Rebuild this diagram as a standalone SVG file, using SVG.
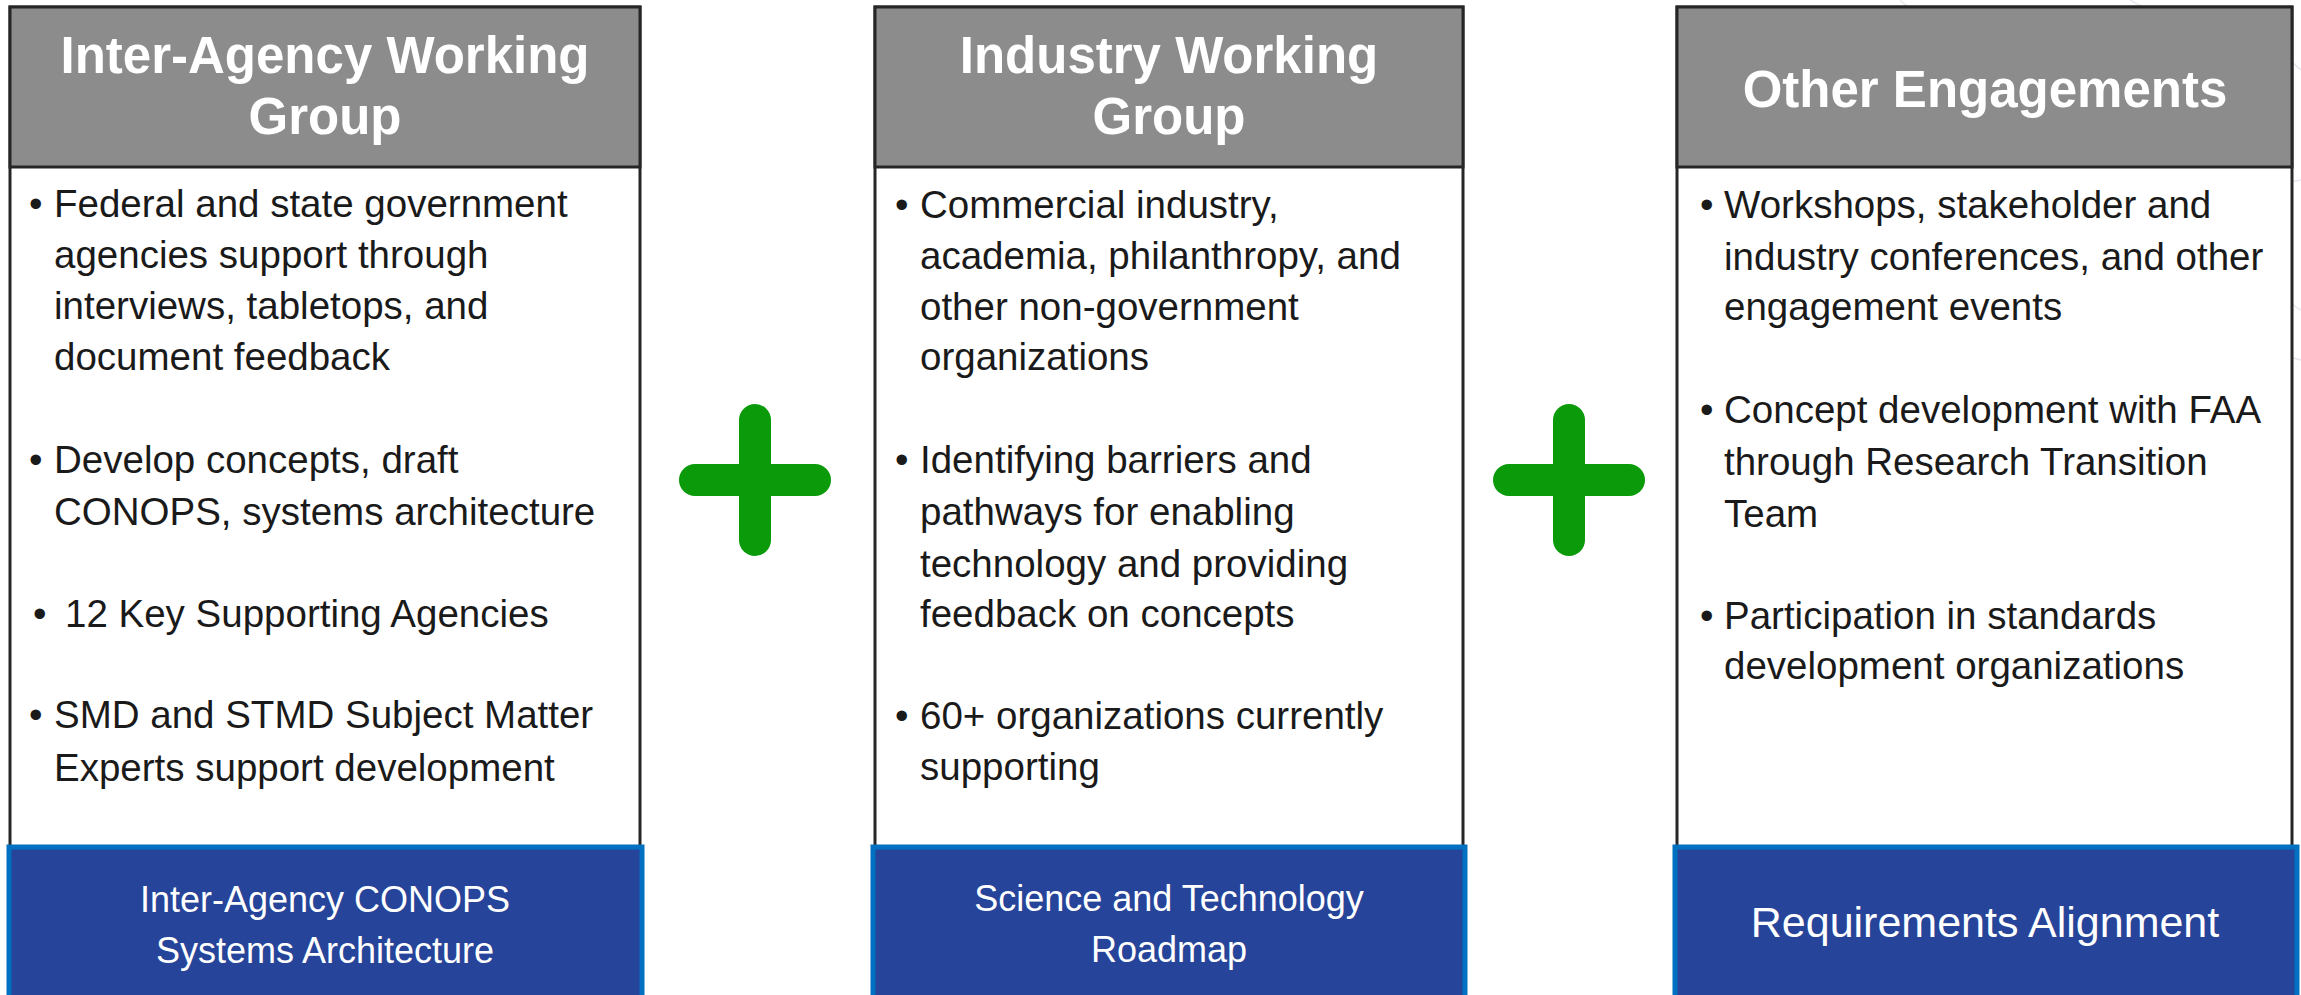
<svg xmlns="http://www.w3.org/2000/svg" width="2301" height="995" viewBox="0 0 2301 995">
<style>
.box{fill:#ffffff;stroke:#262626;stroke-width:3}
.hdr{fill:#8c8c8c;stroke:#262626;stroke-width:3}
.band{fill:#264499;stroke:#0070c0;stroke-width:5}
.title{font-family:"Liberation Sans",Arial,sans-serif;font-weight:bold;font-size:51px;fill:#ffffff;text-anchor:middle}
.body{font-family:"Liberation Sans",Arial,sans-serif;font-size:38.5px;fill:#1a1a1a}
.bandtxt{font-family:"Liberation Sans",Arial,sans-serif;font-size:36px;fill:#ffffff;text-anchor:middle}
.plus{stroke:#0a9a0a;stroke-width:32;stroke-linecap:round;fill:none}
.bg{fill:none;stroke:#c9d0dc;stroke-width:1.5;opacity:0.5}
</style>
<g id="background">
<path class="bg" d="M1900 0 C1930 30 1960 20 1990 8"/>
<path class="bg" d="M2130 0 C2160 20 2200 10 2240 30 C2270 45 2290 60 2301 70"/>
<path class="bg" d="M2200 140 C2230 170 2260 190 2301 180"/>
<path class="bg" d="M2230 230 C2260 260 2280 300 2301 310"/>
<path class="bg" d="M2180 300 C2220 330 2260 350 2301 360"/>
</g>
<g id="node-interagency">
<rect class="box" x="10" y="7" width="630" height="845"/>
<rect class="hdr" x="10" y="7" width="630" height="160"/>
<text class="title" x="325" y="73">Inter-Agency Working</text>
<text class="title" x="325" y="134">Group</text>
<text class="body" x="29" y="217">•</text>
<text class="body" x="54" y="217">Federal and state government</text>
<text class="body" x="54" y="268">agencies support through</text>
<text class="body" x="54" y="319">interviews, tabletops, and</text>
<text class="body" x="54" y="370">document feedback</text>
<text class="body" x="29" y="473">•</text>
<text class="body" x="54" y="473">Develop concepts, draft</text>
<text class="body" x="54" y="525">CONOPS, systems architecture</text>
<text class="body" x="33" y="627">•</text>
<text class="body" x="65" y="627">12 Key Supporting Agencies</text>
<text class="body" x="29" y="728">•</text>
<text class="body" x="54" y="728">SMD and STMD Subject Matter</text>
<text class="body" x="54" y="781">Experts support development</text>
<rect class="band" x="9" y="847" width="633" height="155"/>
<text class="bandtxt" x="325" y="912">Inter-Agency CONOPS</text>
<text class="bandtxt" x="325" y="963">Systems Architecture</text>
</g>
<g id="node-industry">
<rect class="box" x="875" y="7" width="588" height="845"/>
<rect class="hdr" x="875" y="7" width="588" height="160"/>
<text class="title" x="1169" y="73">Industry Working</text>
<text class="title" x="1169" y="134">Group</text>
<text class="body" x="895" y="218">•</text>
<text class="body" x="920" y="218">Commercial industry,</text>
<text class="body" x="920" y="269">academia, philanthropy, and</text>
<text class="body" x="920" y="320">other non-government</text>
<text class="body" x="920" y="370">organizations</text>
<text class="body" x="895" y="473">•</text>
<text class="body" x="920" y="473">Identifying barriers and</text>
<text class="body" x="920" y="525">pathways for enabling</text>
<text class="body" x="920" y="577">technology and providing</text>
<text class="body" x="920" y="627">feedback on concepts</text>
<text class="body" x="895" y="729">•</text>
<text class="body" x="920" y="729">60+ organizations currently</text>
<text class="body" x="920" y="780">supporting</text>
<rect class="band" x="873" y="847" width="592" height="155"/>
<text class="bandtxt" x="1169" y="911">Science and Technology</text>
<text class="bandtxt" x="1169" y="962">Roadmap</text>
</g>
<g id="node-other">
<rect class="box" x="1677" y="7" width="615" height="845"/>
<rect class="hdr" x="1677" y="7" width="615" height="160"/>
<text class="title" x="1985" y="107">Other Engagements</text>
<text class="body" x="1700" y="218">•</text>
<text class="body" x="1724" y="218">Workshops, stakeholder and</text>
<text class="body" x="1724" y="270">industry conferences, and other</text>
<text class="body" x="1724" y="320">engagement events</text>
<text class="body" x="1700" y="423">•</text>
<text class="body" x="1724" y="423">Concept development with FAA</text>
<text class="body" x="1724" y="475">through Research Transition</text>
<text class="body" x="1724" y="527">Team</text>
<text class="body" x="1700" y="629">•</text>
<text class="body" x="1724" y="629">Participation in standards</text>
<text class="body" x="1724" y="679">development organizations</text>
<rect class="band" x="1675" y="847" width="622" height="155"/>
<text class="bandtxt" x="1985" y="937" style="font-size:43px">Requirements Alignment</text>
</g>
<g id="connectors">
<g id="plus-1">
<line class="plus" x1="695" y1="480" x2="815" y2="480"/>
<line class="plus" x1="755" y1="420" x2="755" y2="540"/>
</g>
<g id="plus-2">
<line class="plus" x1="1509" y1="480" x2="1629" y2="480"/>
<line class="plus" x1="1569" y1="420" x2="1569" y2="540"/>
</g>
</g>
</svg>
